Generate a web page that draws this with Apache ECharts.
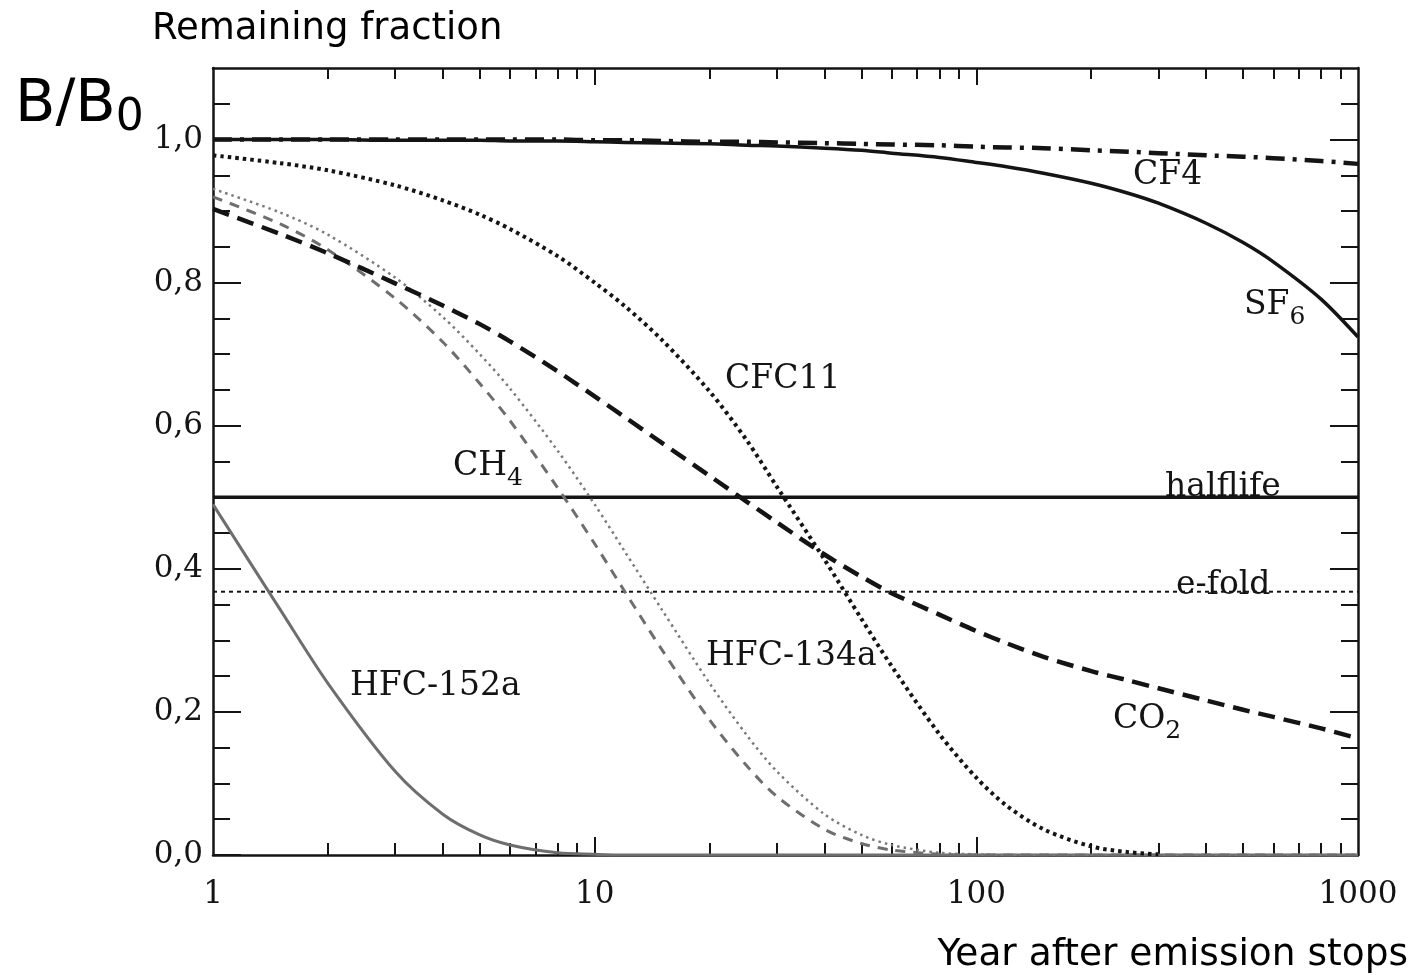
<!DOCTYPE html>
<html>
<head>
<meta charset="utf-8">
<title>Remaining fraction after emission stops</title>
<script src="https://cdn.jsdelivr.net/npm/echarts@6/dist/echarts.min.js"></script>
<style>
  html, body { margin: 0; padding: 0; background: #ffffff; }
  #chart { width: 1414px; height: 975px; }
</style>
</head>
<body>
<div id="chart"></div>
<script>
// Years after emission stops (log axis)
const years = [1, 1.5, 2, 3, 4, 5, 6, 8, 10, 12, 15, 20, 25, 30, 40, 50, 60, 80, 100,
               120, 150, 200, 250, 300, 400, 500, 600, 800, 1000];

// Remaining fraction B/B0 for each gas, one value per year above (null = not drawn)
const cf4    = [1.000, 1.000, 1.000, 1.000, 1.000, 1.000, 1.000, 1.000, 0.999, 0.999, 0.998, 0.997, 0.997, 0.996,
                0.995, 0.994, 0.993, 0.992, 0.990, 0.989, 0.988, 0.985, 0.983, 0.981, 0.978, 0.976, 0.974, 0.970, 0.966];
const sf6    = [1.000, 1.000, 1.000, 0.999, 0.999, 0.999, 0.998, 0.998, 0.997, 0.996, 0.995, 0.994, 0.992, 0.991,
                0.988, 0.985, 0.981, 0.975, 0.968, 0.962, 0.953, 0.939, 0.925, 0.911, 0.883, 0.856, 0.829, 0.777, 0.724];
const cfc11  = [0.978, 0.967, 0.957, 0.936, 0.915, 0.895, 0.875, 0.837, 0.800, 0.767, 0.720, 0.648, 0.580, 0.515,
                0.413, 0.330, 0.264, 0.169, 0.108, 0.069, 0.036, 0.012, 0.004, 0.001, null, null, null, null, null];
const co2    = [0.903, 0.868, 0.841, 0.799, 0.768, 0.742, 0.718, 0.676, 0.641, 0.612, 0.576, 0.530, 0.494, 0.465,
                0.420, 0.389, 0.366, 0.336, 0.313, 0.296, 0.277, 0.257, 0.244, 0.233, 0.216, 0.203, 0.193, 0.177, 0.163];
const ch4    = [0.920, 0.882, 0.846, 0.778, 0.717, 0.659, 0.607, 0.513, 0.435, 0.368, 0.287, 0.189, 0.125, 0.082,
                0.036, 0.016, 0.007, 0.001, 0.000, 0.000, 0.000, 0.000, 0.000, 0.000, 0.000, 0.000, 0.000, 0.000, 0.000];
const hfc134a = [0.931, 0.898, 0.867, 0.807, 0.752, 0.700, 0.652, 0.565, 0.490, 0.424, 0.343, 0.240, 0.168, 0.117,
                0.057, 0.028, 0.014, 0.003, 0.001, 0.000, 0.000, 0.000, 0.000, 0.000, 0.000, 0.000, 0.000, 0.000, 0.000];
const hfc152a = [0.490, 0.343, 0.240, 0.117, 0.057, 0.028, 0.014, 0.003, 0.001, 0.000, 0.000, 0.000, 0.000, 0.000,
                0.000, 0.000, 0.000, 0.000, 0.000, 0.000, 0.000, 0.000, 0.000, 0.000, 0.000, 0.000, 0.000, 0.000, 0.000];

// Reference levels
const halfLifeLevel = 0.5;
const eFoldLevel = 0.368;

// Axis ticks and labels
const xTickValues = [1, 10, 100, 1000];
const xTickLabels = ['1', '10', '100', '1000'];
const xMajorTicks = [10, 100];
const xMinorTicks = [2, 3, 4, 5, 6, 7, 8, 9, 20, 30, 40, 50, 60, 70, 80, 90,
                     200, 300, 400, 500, 600, 700, 800, 900];
const yTickValues = [0, 0.2, 0.4, 0.6, 0.8, 1.0];
const yTickLabels = ['0,0', '0,2', '0,4', '0,6', '0,8', '1,0'];
const yMinorTicks = [0.05, 0.1, 0.15, 0.25, 0.3, 0.35, 0.45, 0.5, 0.55, 0.65, 0.7, 0.75,
                     0.85, 0.9, 0.95, 1.05];

const INK = '#141414';
const GREY = '#6e6e6e';
const SERIF = '"DejaVu Serif", "Liberation Serif", serif';
const SANS = '"DejaVu Sans", Verdana, sans-serif';

function pairs(values) {
  const out = [];
  years.forEach((x, i) => { if (values[i] !== null) out.push([x, values[i]]); });
  return out;
}

function curve(name, values, color, width, dash) {
  return {
    name: name,
    type: 'line',
    data: pairs(values),
    showSymbol: false,
    symbol: 'none',
    smooth: 0.3,
    animation: false,
    silent: true,
    lineStyle: { color: color, width: width, type: dash, cap: 'butt', join: 'round' },
    emphasis: { disabled: true }
  };
}

function level(name, value, width, dash) {
  return {
    name: name,
    type: 'line',
    data: [[xTickValues[0], value], [xTickValues[xTickValues.length - 1], value]],
    showSymbol: false,
    symbol: 'none',
    animation: false,
    silent: true,
    lineStyle: { color: INK, width: width, type: dash },
    emphasis: { disabled: true }
  };
}

function lookup(values, labels, v) {
  const i = values.findIndex(t => Math.abs(t - v) < 1e-9);
  return i >= 0 ? labels[i] : '';
}

const frameLine = { show: true, onZero: false, lineStyle: { color: INK, width: 2.5 } };
const tickStyle = { color: INK, width: 2 };

function xAxisDef(position, ticks, len, showLine, withLabels) {
  return {
    type: 'log', logBase: 10, min: 1, max: 1000, position: position,
    axisLine: showLine ? frameLine : { show: false, onZero: false },
    axisTick: { show: true, inside: true, length: len, customValues: ticks, lineStyle: tickStyle },
    minorTick: { show: false },
    splitLine: { show: false },
    axisLabel: withLabels ? {
      show: true, customValues: xTickValues, margin: 24,
      color: INK, fontFamily: SERIF, fontSize: 31,
      formatter: v => lookup(xTickValues, xTickLabels, v)
    } : { show: false }
  };
}

function yAxisDef(position, ticks, len, showLine, withLabels) {
  return {
    type: 'value', min: 0, max: 1.1, position: position,
    axisLine: showLine ? frameLine : { show: false, onZero: false },
    axisTick: { show: true, inside: true, length: len, customValues: ticks, lineStyle: tickStyle },
    minorTick: { show: false },
    splitLine: { show: false },
    axisLabel: withLabels ? {
      show: true, customValues: yTickValues, margin: 10,
      color: INK, fontFamily: SERIF, fontSize: 31,
      formatter: v => lookup(yTickValues, yTickLabels, v)
    } : { show: false }
  };
}

function label(x, y, main, sub, size) {
  const rich = {
    m: { fontFamily: SERIF, fontSize: size, fill: INK },
    s: { fontFamily: SERIF, fontSize: 25, fill: INK, padding: [24, 0, 0, 0] }
  };
  return {
    type: 'text', x: x, y: y, silent: true, z: 100,
    style: {
      text: sub ? '{m|' + main + '}{s|' + sub + '}' : '{m|' + main + '}',
      rich: rich, align: 'left', verticalAlign: 'middle'
    }
  };
}

const chart = echarts.init(document.getElementById('chart'), null, { renderer: 'canvas' });

chart.setOption({
  backgroundColor: '#ffffff',
  animation: false,
  grid: { left: 213, right: 56, top: 68, bottom: 120, containLabel: false, outerBoundsMode: 'none' },
  xAxis: [
    xAxisDef('bottom', xMajorTicks, 18, true, true),
    xAxisDef('bottom', xMinorTicks, 12, false, false),
    xAxisDef('top', xMajorTicks, 17, true, false),
    xAxisDef('top', xMinorTicks, 11, false, false)
  ],
  yAxis: [
    yAxisDef('left', yTickValues, 28, true, true),
    yAxisDef('left', yMinorTicks, 17, false, false),
    yAxisDef('right', yTickValues, 28, true, false),
    yAxisDef('right', yMinorTicks, 17, false, false)
  ],
  series: [
    level('e-fold', eFoldLevel, 2, [4, 4]),
    level('halflife', halfLifeLevel, 3.5, 'solid'),
    curve('HFC-152a', hfc152a, GREY, 3, 'solid'),
    curve('HFC-134a', hfc134a, '#7a7a7a', 2.5, [2.5, 4]),
    curve('CH4', ch4, GREY, 3, [10, 8]),
    curve('CO2', co2, INK, 4.5, [17, 9]),
    curve('CFC11', cfc11, INK, 4, [3.5, 4]),
    curve('CF4', cf4, INK, 4.5, [19, 8, 4, 8]),
    curve('SF6', sf6, INK, 3.5, 'solid')
  ],
  graphic: [
    { type: 'text', x: 152, y: 29, silent: true,
      style: { text: 'Remaining fraction', font: '37px ' + SANS, fill: '#000', align: 'left', verticalAlign: 'middle' } },
    { type: 'text', x: 15, y: 106, silent: true,
      style: {
        text: '{b|B/B}{s|0}', align: 'left', verticalAlign: 'middle',
        rich: {
          b: { fontFamily: SANS, fontSize: 59, fill: '#000' },
          s: { fontFamily: SANS, fontSize: 44, fill: '#000', padding: [26, 0, 0, 0] }
        }
      } },
    { type: 'text', x: 1408, y: 955, silent: true,
      style: { text: 'Year after emission stops', font: '37.5px ' + SANS, fill: '#000', align: 'right', verticalAlign: 'middle' } },
    label(1133, 175, 'CF4', null, 33),
    label(1244, 305, 'SF', '6', 33),
    label(725, 379, 'CFC11', null, 33),
    label(453, 466, 'CH', '4', 33),
    label(1165, 487, 'halflife', null, 33),
    label(1176, 585, 'e-fold', null, 33),
    label(706, 656, 'HFC-134a', null, 33),
    label(350, 686, 'HFC-152a', null, 33),
    label(1113, 719, 'CO', '2', 33)
  ]
});
</script>
</body>
</html>
